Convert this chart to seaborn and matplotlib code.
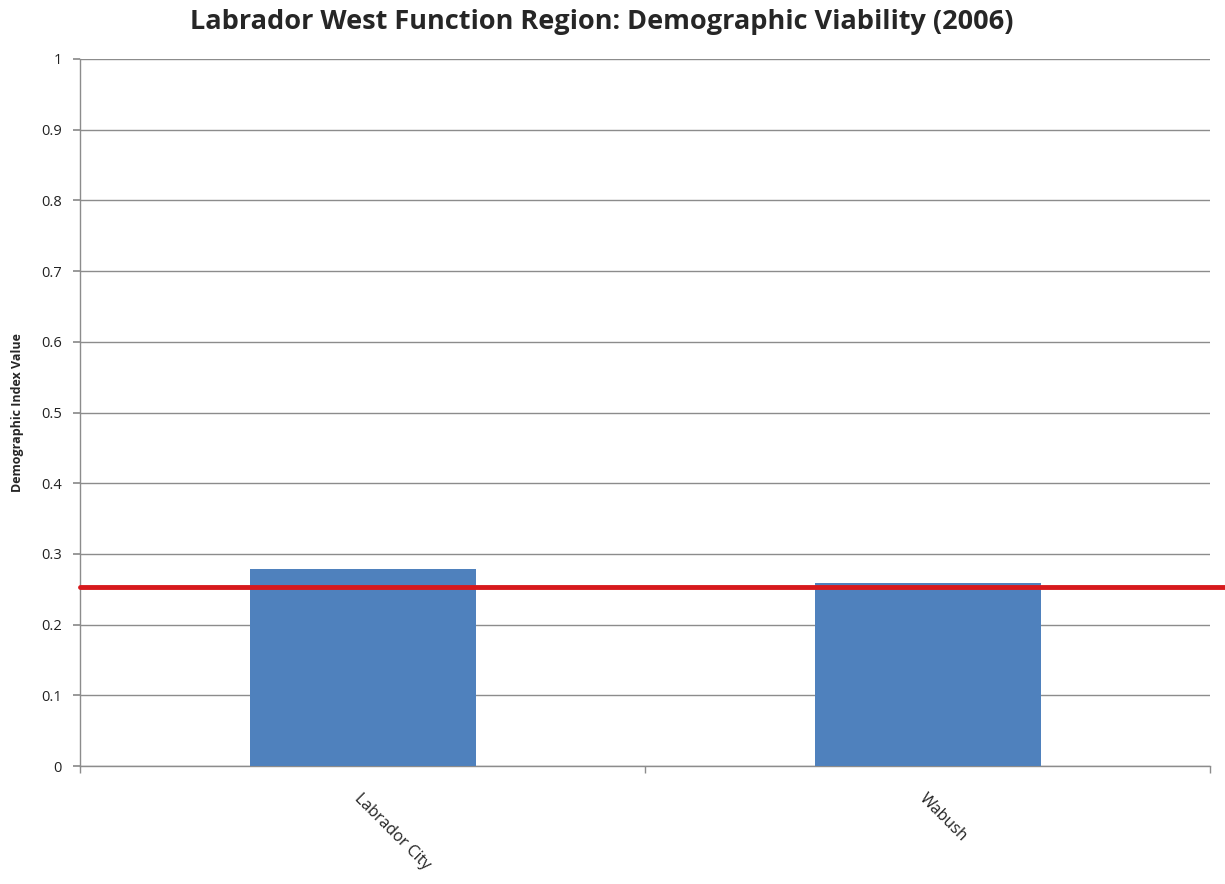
import matplotlib
matplotlib.use('Agg')
import matplotlib.pyplot as plt
import seaborn as sns
import pandas as pd
import numpy as np

# data
towns = ['Labrador City', 'Wabush']
index_values = [0.278, 0.259]
threshold = 0.253
y_ticks = [0, 0.1, 0.2, 0.3, 0.4, 0.5, 0.6, 0.7, 0.8, 0.9, 1]
y_tick_labels = ['0', '0.1', '0.2', '0.3', '0.4', '0.5', '0.6', '0.7', '0.8', '0.9', '1']

df = pd.DataFrame({'town': towns, 'value': index_values})

sns.set_theme(style='white')
plt.rcParams['font.family'] = ['Open Sans', 'DejaVu Sans']

fig = plt.figure(figsize=(12.25, 8.84), dpi=100)
ax = fig.add_axes([80 / 1225, 118 / 884, 1130 / 1225, 707 / 884])

sns.barplot(data=df, x='town', y='value', color='#4F81BD', width=0.4,
            saturation=1, linewidth=0, ax=ax, zorder=3)

ax.set_xlim(-0.5, 1.5)
ax.set_ylim(0, 1)
ax.set_yticks(y_ticks)
ax.set_yticklabels(y_tick_labels, fontsize=10.5, color='#222222')
ax.yaxis.grid(True, color='#8c8c8c', linewidth=1)
ax.set_axisbelow(True)

# threshold line runs past the plot to the figure edge
ax.axhline(threshold, xmin=0, xmax=(1225 - 80) / 1130, color='#D7191C',
           linewidth=3.5, clip_on=False, zorder=4)

for side in ['top', 'right']:
    ax.spines[side].set_visible(False)
for side in ['left', 'bottom']:
    ax.spines[side].set_color('#8c8c8c')
    ax.spines[side].set_linewidth(1)

ax.tick_params(axis='y', which='major', left=True, length=5, color='#8c8c8c', pad=8)
ax.set_xticks([0, 1])
ax.set_xticklabels(towns, rotation=-45, ha='left', va='top',
                   rotation_mode='anchor', fontsize=11.5, color='#222222')
ax.tick_params(axis='x', which='major', length=0, pad=18)
ax.set_xticks([-0.5, 0.5, 1.5], minor=True)
ax.tick_params(axis='x', which='minor', bottom=True, length=5, color='#8c8c8c')

ax.set_xlabel('')
ax.set_ylabel('Demographic Index Value', fontsize=9, fontweight='bold', labelpad=12)
fig.suptitle('Labrador West Function Region: Demographic Viability (2006)',
             fontsize=19.5, fontweight='bold', y=0.99, x=602 / 1225)

fig.savefig('out.png', dpi=100)
